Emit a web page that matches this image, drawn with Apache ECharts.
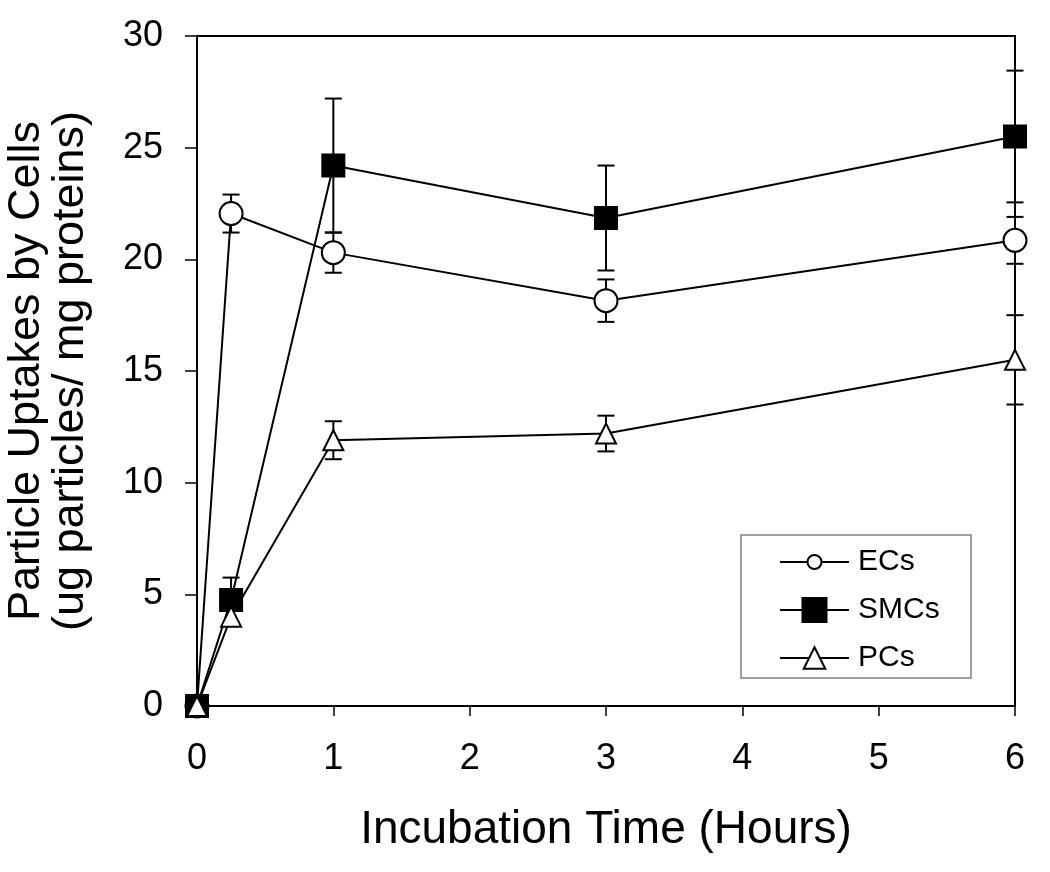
<!DOCTYPE html>
<html><head><meta charset="utf-8">
<script src="https://cdn.jsdelivr.net/npm/echarts@6/dist/echarts.min.js"></script>
<style>html,body{margin:0;padding:0;background:#fff}#c{width:1050px;height:872px}</style>
</head><body><div id="c"></div>
<script>
const times = [0, 0.25, 1, 3, 6];
const ecs = [0, 22.05, 20.3, 18.15, 20.85];
const ecsErr = [0, 0.85, 0.9, 0.95, 1.05];
const smcs = [0, 4.75, 24.2, 21.85, 25.5];
const smcsErr = [0, 1.0, 3.0, 2.35, 2.95];
const pcs = [0, 4.0, 11.9, 12.2, 15.5];
const pcsErr = [0, 0.3, 0.85, 0.8, 2.0];
const seriesNames = ['ECs', 'SMCs', 'PCs'];
const xTicks = [0, 1, 2, 3, 4, 5, 6];
const yTicks = [0, 5, 10, 15, 20, 25, 30];

const FONT = 'Liberation Sans, Arial, sans-serif';
const chart = echarts.init(document.getElementById('c'));

function errSeries(vals, errs) {
  return {
    type: 'custom', z: 1, silent: true,
    data: times.map((t, i) => [t, vals[i] - errs[i], vals[i] + errs[i]]),
    renderItem: function (params, api) {
      const x = api.value(0);
      const lo = api.coord([x, api.value(1)]);
      const hi = api.coord([x, api.value(2)]);
      const w = 8.5;
      const st = { stroke: '#000', lineWidth: 2 };
      return { type: 'group', children: [
        { type: 'line', shape: { x1: lo[0], y1: lo[1], x2: hi[0], y2: hi[1] }, style: st },
        { type: 'line', shape: { x1: lo[0] - w, y1: lo[1], x2: lo[0] + w, y2: lo[1] }, style: st },
        { type: 'line', shape: { x1: hi[0] - w, y1: hi[1], x2: hi[0] + w, y2: hi[1] }, style: st }
      ]};
    }
  };
}

function lineSeries(name, vals, symbol, size, fill) {
  return {
    name: name, type: 'line', z: 3,
    data: times.map((t, i) => [t, vals[i]]),
    symbol: symbol, symbolSize: size, showAllSymbol: true,
    lineStyle: { color: '#000', width: 2 },
    itemStyle: { color: fill, borderColor: '#000', borderWidth: 2 },
    emphasis: { disabled: true }
  };
}

function legendFor(name, itemHeight, centerY) {
  return {
    data: [name],
    left: 779, top: centerY - 17,
    padding: 0,
    itemWidth: 69, itemHeight: itemHeight,
    textStyle: { fontFamily: FONT, fontSize: 30, lineHeight: 34, color: '#000', padding: [0, 0, 0, 4] },
    selectedMode: false
  };
}

chart.setOption({
  animation: false,
  backgroundColor: '#fff',
  grid: { left: 197, right: 35, top: 36, bottom: 166, show: true, borderColor: '#000', borderWidth: 2, outerBoundsMode: 'none', containLabel: false },
  graphic: [{
    type: 'rect', z: 0,
    shape: { x: 741, y: 535, width: 230, height: 143 },
    style: { fill: '#fff', stroke: '#808080', lineWidth: 1.5 }
  }],
  legend: [
    legendFor(seriesNames[0], 17.5, 562),
    legendFor(seriesNames[1], 30, 610),
    legendFor(seriesNames[2], 27, 658)
  ],
  xAxis: {
    type: 'value', min: 0, max: 6, interval: 1,
    name: 'Incubation Time (Hours)', nameLocation: 'middle', nameGap: 101,
    nameTextStyle: { fontFamily: FONT, fontSize: 46, color: '#000' },
    axisLine: { lineStyle: { color: '#000', width: 2 } },
    axisTick: { show: true, length: 10, lineStyle: { color: '#000', width: 1.5 } },
    axisLabel: { fontFamily: FONT, fontSize: 36, color: '#000', margin: 35, formatter: v => xTicks.includes(v) ? String(v) : '' },
    splitLine: { show: false }
  },
  yAxis: {
    type: 'value', min: 0, max: 30, interval: 5,
    name: 'Particle Uptakes by Cells\n(ug particles/ mg proteins)', nameLocation: 'middle', nameGap: 104,
    nameTextStyle: { fontFamily: FONT, fontSize: 45, color: '#000', lineHeight: 44 },
    axisLine: { lineStyle: { color: '#000', width: 2 } },
    axisTick: { show: true, length: 12, lineStyle: { color: '#000', width: 1.5 } },
    axisLabel: { fontFamily: FONT, fontSize: 36, color: '#000', margin: 34, formatter: v => yTicks.includes(v) ? String(v) : '' },
    splitLine: { show: false }
  },
  series: [
    errSeries(ecs, ecsErr),
    errSeries(smcs, smcsErr),
    errSeries(pcs, pcsErr),
    lineSeries('ECs', ecs, 'circle', 23, '#fff'),
    lineSeries('SMCs', smcs, 'rect', 22, '#000'),
    lineSeries('PCs', pcs, 'triangle', 20, '#fff')
  ]
});
</script></body></html>
